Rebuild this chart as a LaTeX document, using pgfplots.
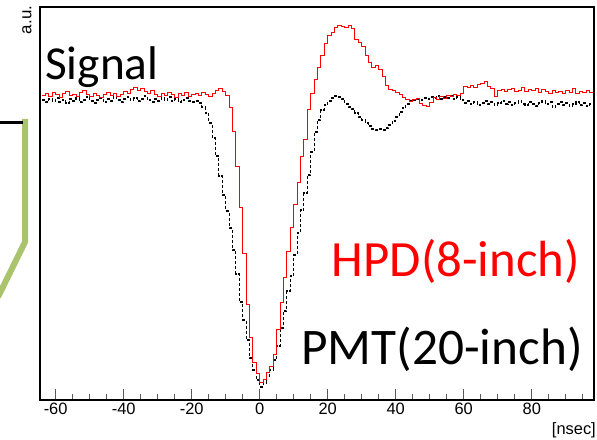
\documentclass[border=0pt]{standalone}
\usepackage{pgfplots}
\pgfplotsset{compat=1.18}
\usepackage{pgfplotstable}
\usepackage{fontspec}
\setmainfont{Liberation Sans}
\newfontfamily\calibri{Carlito}
\definecolor{slidegreen}{RGB}{169,196,108}

\pgfplotstableread[row sep=\\]{x y\\
-64 304\\ -63 306\\ -62 303\\ -61 307\\ -60 305\\ -59 302\\ -58 306\\ -57 308\\ -56 304\\ -55 305\\
-54 303\\ -53 307\\ -52 309\\ -51 305\\ -50 303\\ -49 306\\ -48 304\\ -47 302\\ -46 305\\ -45 307\\
-44 304\\ -43 306\\ -42 303\\ -41 305\\ -40 308\\ -39 306\\ -38 310\\ -37 312\\ -36 309\\ -35 311\\
-34 308\\ -33 306\\ -32 309\\ -31 305\\ -30 303\\ -29 306\\ -28 304\\ -27 307\\ -26 305\\ -25 302\\
-24 306\\ -23 304\\ -22 307\\ -21 303\\ -20 305\\ -19 306\\ -18 304\\ -17 307\\ -16 305\\ -15 303\\
-14 306\\ -13 309\\ -12 311\\ -11 308\\ -10 304\\ -9 292\\ -8 268\\ -7 233\\ -6 192\\ -5 146\\
-4 95\\ -3 62\\ -2 37\\ -1 26\\ 0 17\\ 1 20\\ 2 27\\ 3 33\\ 4 45\\ 5 70\\
6 97\\ 7 122\\ 8 148\\ 9 172\\ 10 195\\ 11 217\\ 12 243\\ 13 260\\ 14 290\\ 15 306\\
16 320\\ 17 332\\ 18 344\\ 19 356\\ 20 364\\ 21 367\\ 22 372\\ 23 374\\ 24 373\\ 25 372\\
26 374\\ 27 371\\ 28 360\\ 29 357\\ 30 353\\ 31 344\\ 32 337\\ 33 332\\ 34 334\\ 35 330\\
36 323\\ 37 314\\ 38 310\\ 39 309\\ 40 307\\ 41 305\\ 42 302\\ 43 300\\ 44 298\\ 45 300\\
46 301\\ 47 296\\ 48 294\\ 49 293\\ 50 297\\ 51 302\\ 52 300\\ 53 303\\ 54 301\\ 55 304\\
56 303\\ 57 305\\ 58 304\\ 59 306\\ 60 313\\ 61 312\\ 62 314\\ 63 312\\ 64 315\\ 65 316\\
66 318\\ 67 313\\ 68 311\\ 69 303\\ 70 309\\ 71 310\\ 72 308\\ 73 310\\ 74 311\\ 75 308\\
76 309\\ 77 312\\ 78 308\\ 79 310\\ 80 309\\ 81 311\\ 82 307\\ 83 310\\ 84 308\\ 85 306\\
86 309\\ 87 307\\ 88 308\\ 89 306\\ 90 309\\ 91 307\\ 92 311\\ 93 306\\ 94 308\\ 95 307\\
96 309\\ 97 307\\ 98 307\\
}\hpd

\pgfplotstableread[row sep=\\]{x y\\
-64 300\\ -63 298\\ -62 301\\ -61 299\\ -60 302\\ -59 298\\ -58 300\\ -57 297\\ -56 301\\ -55 299\\
-54 302\\ -53 298\\ -52 300\\ -51 303\\ -50 299\\ -49 297\\ -48 300\\ -47 302\\ -46 298\\ -45 301\\
-44 299\\ -43 303\\ -42 300\\ -41 298\\ -40 301\\ -39 303\\ -38 300\\ -37 302\\ -36 299\\ -35 301\\
-34 304\\ -33 300\\ -32 298\\ -31 301\\ -30 299\\ -29 302\\ -28 300\\ -27 303\\ -26 299\\ -25 301\\
-24 298\\ -23 300\\ -22 302\\ -21 299\\ -20 298\\ -19 299\\ -18 297\\ -17 293\\ -16 287\\ -15 277\\
-14 262\\ -13 244\\ -12 224\\ -11 205\\ -10 189\\ -9 172\\ -8 150\\ -7 126\\ -6 98\\ -5 80\\
-4 60\\ -3 42\\ -2 30\\ -1 20\\ 0 13\\ 1 17\\ 2 24\\ 3 30\\ 4 40\\ 5 54\\
6 72\\ 7 89\\ 8 109\\ 9 124\\ 10 145\\ 11 167\\ 12 190\\ 13 207\\ 14 225\\ 15 248\\
16 268\\ 17 280\\ 18 290\\ 19 295\\ 20 299\\ 21 302\\ 22 304\\ 23 303\\ 24 301\\ 25 296\\
26 293\\ 27 291\\ 28 287\\ 29 283\\ 30 280\\ 31 277\\ 32 274\\ 33 271\\ 34 270\\ 35 271\\
36 270\\ 37 272\\ 38 275\\ 39 279\\ 40 283\\ 41 288\\ 42 292\\ 43 296\\ 44 299\\ 45 300\\
46 301\\ 47 300\\ 48 302\\ 49 301\\ 50 303\\ 51 302\\ 52 304\\ 53 301\\ 54 303\\ 55 302\\
56 304\\ 57 301\\ 58 303\\ 59 300\\ 60 297\\ 61 299\\ 62 296\\ 63 298\\ 64 295\\ 65 297\\
66 299\\ 67 296\\ 68 298\\ 69 295\\ 70 297\\ 71 299\\ 72 296\\ 73 298\\ 74 295\\ 75 297\\
76 299\\ 77 296\\ 78 295\\ 79 298\\ 80 296\\ 81 294\\ 82 297\\ 83 299\\ 84 296\\ 85 298\\
86 293\\ 87 296\\ 88 298\\ 89 295\\ 90 297\\ 91 294\\ 92 296\\ 93 298\\ 94 295\\ 95 297\\
96 294\\ 97 296\\ 98 296\\
}\pmt

\begin{document}
\begin{tikzpicture}
\useasboundingbox (0,0) rectangle (597bp,440bp);
% slide decoration
\draw[line width=6bp, slidegreen] (25bp,321bp) -- (25bp,198bp) -- (-2bp,143bp);
\draw[line width=3bp, black] (0bp,317bp) -- (23bp,317bp);
\begin{axis}[
  at={(40bp,40bp)}, anchor=south west,
  width=554bp, height=393bp, scale only axis,
  xmin=-64.6, xmax=98.3, ymin=0, ymax=393,
  axis line style={line width=1.8bp},
  ytick=\empty,
  xtick={-60,-40,-20,0,20,40,60,80},
  xticklabels={-60,-40,-20,0,20,40,60,80},
  minor xtick={-60,-55,...,95},
  xtick pos=left,
  tick align=inside,
  major tick length=11bp, minor tick length=5.5bp,
  tick style={black!65, line width=0.9bp},
  xticklabel style={font=\fontsize{16.5}{18}\selectfont, text=black},
]
\addplot[const plot, black, line width=1.1bp, dash pattern=on 3bp off 2bp] table[x=x,y=y] {\pmt};
\addplot[const plot, red, line width=1bp] table[x=x,y=y] {\hpd};
\end{axis}
\node[anchor=base west, inner sep=0, font=\calibri\fontsize{47.5}{48}\selectfont] at (45bp,360bp) {Signal};
\node[anchor=base east, inner sep=0, text=red, font=\calibri\fontsize{51}{51}\selectfont] at (580bp,163bp) {HPD(8-inch)};
\node[anchor=base east, inner sep=0, font=\calibri\fontsize{51.5}{52}\selectfont] at (583bp,75bp) {PMT(20-inch)};
\node[anchor=base east, inner sep=0, font=\fontsize{16.5}{18}\selectfont] at (596bp,6bp) {[nsec]};
\node[rotate=90, inner sep=0, font=\fontsize{17}{18}\selectfont] at (27bp,420bp) {a.u.};
\end{tikzpicture}
\end{document}
